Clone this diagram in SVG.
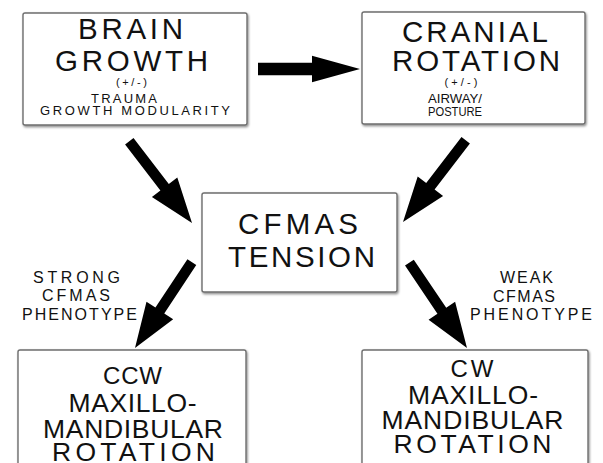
<svg xmlns="http://www.w3.org/2000/svg" xmlns:xlink="http://www.w3.org/1999/xlink" width="603" height="463" viewBox="0 0 603 463">
<style>
.box{fill:#fff;stroke:#6e6e6e;stroke-width:1.4;filter:url(#sh)}
text{font-family:"Liberation Sans",Arial,sans-serif;fill:#111;text-anchor:middle}
.big{font-size:29.5px}
.mid{font-size:26.5px}
.mid2{font-size:24px}
.sm{font-size:13px}
.xs{font-size:11px}
.lab{font-size:16px}
.arrow{fill:#000}
</style>
<defs>
<filter id="sh" x="-5%" y="-5%" width="110%" height="110%">
<feDropShadow dx="1" dy="1.5" stdDeviation="0.8" flood-color="#000" flood-opacity="0.45"/>
</filter>
<polygon id="ad" points="-103,-5.3 -45,-5.3 -45,-16 0,0 -45,16 -45,5.3 -103,5.3"/>
<polygon id="ah" points="-102,-6.2 -48,-6.2 -48,-13.3 0,0 -48,13.3 -48,6.2 -102,6.2"/>
</defs>
<rect width="603" height="463" fill="#fff"/>

<g id="connectors" class="arrow">
<use xlink:href="#ah" transform="translate(360,69)"/>
<use xlink:href="#ad" transform="translate(192,223) rotate(52.5)"/>
<use xlink:href="#ad" transform="translate(403,222) rotate(127.5)"/>
<use xlink:href="#ad" transform="translate(135,348) rotate(123.5)"/>
<use xlink:href="#ad" transform="translate(467,348) rotate(56)"/>
</g>

<g id="brain-growth">
<rect class="box" x="23" y="13" width="224" height="112" rx="2"/>
<text class="big" x="130.5" y="39" textLength="105">BRAIN</text>
<text class="big" x="131.5" y="71" textLength="153">GROWTH</text>
<text class="xs" x="131.5" y="86" textLength="31">(+/-)</text>
<text class="sm" x="124" y="103" textLength="66">TRAUMA</text>
<text class="sm" x="135" y="115" textLength="190">GROWTH MODULARITY</text>
</g>

<g id="cranial-rotation">
<rect class="box" x="362" y="12" width="223" height="112" rx="2"/>
<text class="big" x="475" y="42" textLength="146">CRANIAL</text>
<text class="big" x="476" y="71" textLength="168">ROTATION</text>
<text class="xs" x="461" y="86" textLength="33">(+/-)</text>
<text class="sm" x="455" y="103" textLength="54" lengthAdjust="spacingAndGlyphs">AIRWAY/</text>
<text class="sm" x="455" y="116" textLength="54" lengthAdjust="spacingAndGlyphs">POSTURE</text>
</g>

<g id="cfmas-tension">
<rect class="box" x="202" y="193" width="195" height="99" rx="2"/>
<text class="big" x="298" y="234" textLength="120">CFMAS</text>
<text class="big" x="301.5" y="267" textLength="147">TENSION</text>
</g>

<g id="strong-label">
<text class="lab" x="76.5" y="283" textLength="87">STRONG</text>
<text class="lab" x="76" y="301" textLength="68">CFMAS</text>
<text class="lab" x="79.5" y="320" textLength="115">PHENOTYPE</text>
</g>

<g id="weak-label">
<text class="lab" x="526.5" y="283" textLength="53">WEAK</text>
<text class="lab" x="524" y="302" textLength="62">CFMAS</text>
<text class="lab" x="531" y="320" textLength="122">PHENOTYPE</text>
</g>

<g id="ccw-rotation">
<rect class="box" x="18" y="350" width="228" height="125" rx="2"/>
<text class="mid2" x="132.5" y="384" textLength="59">CCW</text>
<text class="mid" x="132.5" y="412" textLength="128">MAXILLO-</text>
<text class="mid" x="133" y="438" textLength="180">MANDIBULAR</text>
<text class="mid" x="133.5" y="461" textLength="163">ROTATION</text>
</g>

<g id="cw-rotation">
<rect class="box" x="362" y="350" width="226" height="125" rx="2"/>
<text class="mid2" x="472" y="377" textLength="43">CW</text>
<text class="mid" x="473" y="404" textLength="130">MAXILLO-</text>
<text class="mid" x="472.5" y="429" textLength="182">MANDIBULAR</text>
<text class="mid" x="472.5" y="453" textLength="158">ROTATION</text>
</g>
</svg>
